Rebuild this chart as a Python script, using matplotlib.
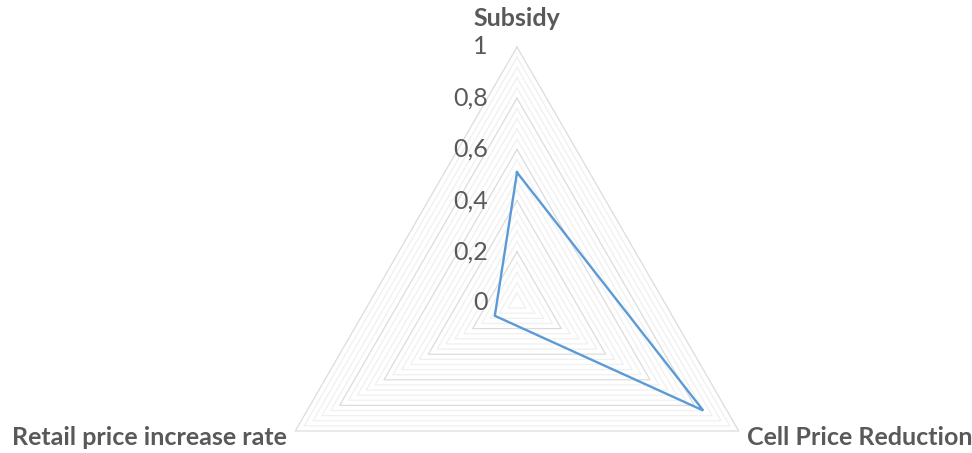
import numpy as np
import matplotlib
matplotlib.use("Agg")
import matplotlib.pyplot as plt
from matplotlib.transforms import offset_copy

# Radar chart data
categories = ["Subsidy", "Cell Price Reduction", "Retail price increase rate"]
values = [0.51, 0.84, 0.10]
tick_values = [0, 0.2, 0.4, 0.6, 0.8, 1.0]
tick_labels = ["0", "0,2", "0,4", "0,6", "0,8", "1"]
minor_step = 0.04

plt.rcParams["font.family"] = ["Lato", "DejaVu Sans"]
TEXT = "#595959"

W, H = 972, 453
fig = plt.figure(figsize=(W / 100, H / 100), dpi=100)
cx, cy, R = 517, 150, 256
ax = fig.add_axes([(cx - R) / W, (cy - R) / H, 2 * R / W, 2 * R / H], projection="polar")
ax.set_theta_zero_location("N")
ax.set_theta_direction(-1)
ax.set_ylim(0, 1)
ax.axis("off")

n = len(categories)
angles = np.linspace(0, 2 * np.pi, n, endpoint=False)
closed = np.concatenate([angles, angles[:1]])

# triangular gridlines: minor every 0.04, major every 0.2
levels = np.round(np.arange(minor_step, 1.0 + 1e-9, minor_step), 2)
for lv in levels:
    major = abs(lv / 0.2 - round(lv / 0.2)) < 1e-6
    ax.plot(closed, [lv] * (n + 1), color="#dcdcdc" if major else "#f0f0f0",
            lw=0.9, zorder=1 if major else 0.5, clip_on=False)

# data polygon
vals = values + values[:1]
ax.plot(closed, vals, color="#5b9bd5", lw=1.7, zorder=3, clip_on=False,
        solid_joinstyle="miter")

# radial tick labels to the left of the top spoke
lab_tr = offset_copy(ax.transData, fig=fig, x=-21, y=0, units="points")
for v, t in zip(tick_values, tick_labels):
    ax.text(0, v, t, transform=lab_tr, ha="right", va="center",
            fontsize=18, color=TEXT, clip_on=False)

# category labels outside the vertices
style = dict(fontsize=18, fontweight="bold", color=TEXT, annotation_clip=False,
             textcoords="offset points")
ax.annotate(categories[0], xy=(angles[0], 1.0), xytext=(0, 12),
            ha="center", va="bottom", **style)
ax.annotate(categories[1], xy=(angles[1], 1.0), xytext=(6, -5),
            ha="left", va="center", **style)
ax.annotate(categories[2], xy=(angles[2], 1.0), xytext=(-6, -5),
            ha="right", va="center", **style)

fig.savefig("out.png", dpi=100)
